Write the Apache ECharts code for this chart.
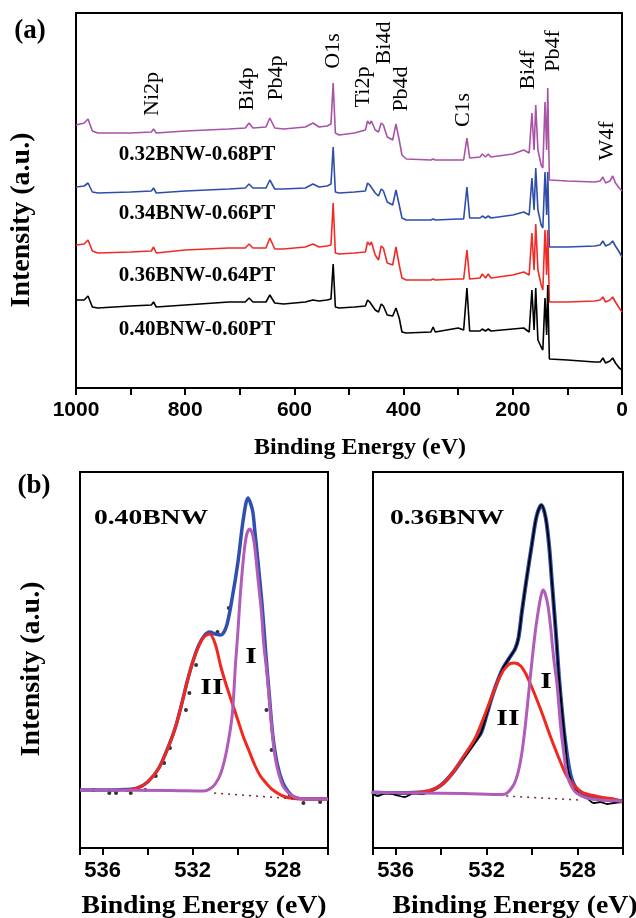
<!DOCTYPE html>
<html><head><meta charset="utf-8">
<script src="https://cdn.jsdelivr.net/npm/echarts@6/dist/echarts.min.js"></script>
<style>html,body{margin:0;padding:0;background:#fff}#c{width:636px;height:918px}</style>
</head><body><div id="c"></div>
<script>
// ---------- (a) survey spectra: binding energy (eV) and offset intensities (a.u.) ----------
const energies = [1000,985,978,970,960,900,862,858,853,800,720,690,683,676,652,645,636,620,580,566,555,540,533,529,525,518,490,470,466,462,459,452,446,441,437,434,430,420,414,408,403,395,350,346,342,300,290,284,279,260,256,250,245,240,200,180,170,165,161,158,154,148,145,141,138,136,133,130,100,50,40,35,30,22,17,12,5,0];
const int032 = [263,265,269,257,255,255,256,259,255,257,259,260,265,260,261,270,260,259,261,265,261,262,264,305,255,253,255,258,267,264,267,258,256,265,263,265,251,248,264,248,233,229,228,229,228,228,228,250,230,231,234,231,234,231,234,238,235,275,238,283,238,223,220,286,238,300,208,208,207,206,207,211,205,207,212,205,200,197];
const int034 = [201,202,205,196,195,196,197,200,195,197,199,200,204,200,200,208,199,199,200,204,201,202,204,241,196,195,196,197,205,203,205,195,192,199,197,199,186,183,198,183,170,168,168,169,168,169,169,201,170,170,172,170,172,170,173,176,173,210,178,220,178,163,160,216,173,216,141,141,141,142,143,147,142,144,147,142,136,131];
const int036 = [143,144,148,137,135,136,137,141,135,138,140,140,144,140,140,150,139,139,141,144,141,142,143,185,135,134,135,136,146,143,146,133,128,142,140,142,125,123,141,123,110,108,108,109,108,109,109,138,109,110,114,110,114,110,113,116,113,155,118,164,118,103,98,158,113,158,86,86,86,87,88,91,86,88,91,86,80,76];
const int040 = [88,88,92,81,80,82,83,86,81,83,86,86,90,86,86,93,85,84,86,88,87,88,89,124,81,80,81,82,88,86,88,78,76,84,82,84,73,72,80,70,56,55,56,61,56,60,58,100,57,57,59,57,59,57,59,60,56,98,58,100,48,41,38,90,53,103,29,29,28,26,26,30,25,27,30,25,20,18];
const sampleNames = ['0.32BNW-0.68PT','0.34BNW-0.66PT','0.36BNW-0.64PT','0.40BNW-0.60PT'];
const peakNames = ['Ni2p','Bi4p','Pb4p','O1s','Ti2p','Bi4d','Pb4d','C1s','Bi4f','Pb4f','W4f'];
const peakEnergies = [861,687,634,529,474,436,405,291,172,126,27];
const surveyTicks = [1000,800,600,400,200,0];

// ---------- (b) O1s core-level fits: [binding energy (eV), intensity (a.u.)] ----------
const o1sTicks = [536,532,528];
// 0.40BNW
const b40Data = [[536.4,58],[535.7,55],[535.4,55],[534.75,55],[534.1,58],[533.64,72],[533.27,85],[533.01,100],[532.3,138],[532.15,155],[531.85,183],[530.9,216],[530.4,240],[528.73,138],[528.5,98],[527.69,53],[527.09,45],[526.35,46]];
const b40Env = [[537,58],[536,58],[535,58.5],[534.5,59.5],[534,66],[533.5,80],[533,106],[532.75,122],[532.5,143],[532.25,166],[532,186],[531.75,202],[531.5,212],[531.25,216],[531,214],[530.75,213],[530.5,222],[530.25,250],[530,285],[529.75,330],[529.55,350],[529.35,338],[529.25,318],[529.1,285],[528.95,250],[528.85,222],[528.75,192],[528.6,152],[528.45,113],[528.25,84],[528,65],[527.75,56],[527.5,51],[527,49],[526,49]];
const b40PeakI = [[537,58],[533,57.5],[531.5,57],[531.25,59],[531,64],[530.75,75],[530.5,97],[530.25,133],[530.1,185],[530,215],[529.9,250],[529.8,278],[529.7,300],[529.6,314],[529.47,319],[529.35,314],[529.25,301],[529.1,268],[528.95,235],[528.85,204],[528.7,173],[528.55,134],[528.4,100],[528.25,80],[528,62],[527.75,55],[527.5,51],[527,49],[526,49]];
const b40PeakII = [[535,57.5],[534.5,59.5],[534,66],[533.5,80],[533,106],[532.75,122],[532.5,143],[532.25,166],[532,186],[531.75,201],[531.5,211],[531.25,214],[531,204],[530.75,181],[530.5,162],[530.25,145],[530,128],[529.75,111],[529.5,97],[529.25,83],[529,72],[528.75,65],[528.5,59],[528,52],[527.5,49.5],[527,49],[526,49]];
const b40Base = [[531.05,55],[527.39,49]];
// 0.36BNW
const b36Data = [[537.06,55],[536.8,52],[536.4,55],[536,53],[535.6,51],[535.2,55],[534.8,54],[534.4,58],[534.1,61],[533.8,67],[533.5,75],[533.2,84],[532.9,93],[532.5,106],[532.25,115],[532,133],[531.75,152],[531.5,168],[531.25,181],[531,190],[530.75,199],[530.6,210],[530.45,236],[530.25,268],[530,305],[529.8,332],[529.59,343],[529.4,330],[529.25,302],[529.14,270],[529.03,238],[528.92,205],[528.82,172],[528.7,141],[528.55,108],[528.4,76],[528.1,58],[527.8,52],[527.59,50],[527.3,45],[527,46],[526.7,44],[526.41,45],[526.04,46]];
const b36Env = [[537.06,55.5],[536,55],[535,55.5],[534.5,57],[534,63],[533.5,75],[533,91],[532.5,107],[532.25,115],[532,133],[531.75,152],[531.5,168],[531.25,181],[531,190],[530.75,199],[530.6,210],[530.45,236],[530.25,268],[530,305],[529.8,332],[529.59,343],[529.4,330],[529.25,302],[529.14,270],[529.03,238],[528.92,205],[528.82,172],[528.7,141],[528.55,108],[528.33,75],[528.1,61],[527.75,54],[527.5,51],[527,49],[526.04,47]];
const b36PeakI = [[537.06,55.5],[535,55],[533,54.5],[531.3,53.5],[531.1,55],[530.9,60],[530.75,66],[530.6,77],[530.45,95],[530.3,122],[530.15,155],[530,188],[529.85,218],[529.7,241],[529.6,253],[529.52,258],[529.42,254],[529.3,242],[529.18,220],[529.05,190],[528.9,163],[528.75,123],[528.6,94],[528.45,72],[528.25,61],[528.04,55],[527.6,50],[527,48],[526.04,47]];
const b36PeakII = [[535.3,55],[535,55.5],[534.5,57.5],[534,63],[533.5,75],[533,92],[532.5,110],[532,138],[531.75,153],[531.5,167],[531.25,178],[531,184],[530.77,185],[530.5,182],[530.25,173],[530,160],[529.75,146],[529.5,131],[529.25,115],[529,100],[528.75,86],[528.5,73],[528.25,65],[528,59],[527.75,55],[527,51],[526.41,49],[526.04,46]];
const b36Base = [[531.14,52],[527.96,48]];

const serif = '"Liberation Serif","Times New Roman",serif';
const sans = '"Liberation Sans",Arial,sans-serif';
const pair = (xs, ys) => xs.map((x, i) => [x, ys[i]]);
const chart = echarts.init(document.getElementById('c'));

function xAx(grid, min, max, interval, ticks, labelSize, name, nameSize, nameGap, shift) {
  return {
    gridIndex: grid, type: 'value', inverse: true, min, max, interval,
    axisLine: {show: true, onZero: false, lineStyle: {color: '#000', width: 2}},
    axisTick: {show: true, length: 7, lineStyle: {color: '#000', width: 2}},
    axisLabel: {show: true, showMinLabel: true, showMaxLabel: true, hideOverlap: false,
      formatter: v => ticks.includes(v) ? String(v) : '',
      fontFamily: sans, fontWeight: 'bold', fontSize: labelSize, color: '#000', margin: 12},
    splitLine: {show: false},
    name, nameLocation: 'middle', nameGap,
    nameTextStyle: {fontFamily: serif, fontWeight: 'bold', fontSize: nameSize, color: '#000', padding: [0, 0, 0, shift]}
  };
}
function yAx(grid, min, max, name, nameGap, shiftDown) {
  return {
    gridIndex: grid, type: 'value', min, max,
    axisLine: {show: true, lineStyle: {color: '#000', width: 2}},
    axisTick: {show: false}, axisLabel: {show: false}, splitLine: {show: false},
    name, nameLocation: 'middle', nameRotate: 90, nameGap,
    nameTextStyle: {fontFamily: serif, fontWeight: 'bold', fontSize: 28, color: '#000', padding: [0, shiftDown, 0, 0]}
  };
}
function line(xi, data, color, width, extra) {
  return Object.assign({type: 'line', xAxisIndex: xi, yAxisIndex: xi, data, symbol: 'none',
    lineStyle: {color, width}, itemStyle: {color}, silent: true}, extra || {});
}
const smooth = {smooth: 0.3};

const option = {
  animation: false,
  backgroundColor: '#fff',
  grid: [
    {left: 76, top: 13, width: 546, height: 375, show: true, borderColor: '#000', borderWidth: 2},
    {left: 80, top: 472, width: 248, height: 376, show: true, borderColor: '#000', borderWidth: 2},
    {left: 373, top: 472, width: 250, height: 376, show: true, borderColor: '#000', borderWidth: 2}
  ],
  xAxis: [
    xAx(0, 0, 1000, 100, surveyTicks, 21, 'Binding Energy (eV)', 24, 48, 22),
    xAx(1, 526, 537, 2, o1sTicks, 22, '', 26, 44, 0),
    xAx(2, 526, 537, 2, o1sTicks, 22, '', 26, 44, 0)
  ],
  yAxis: [
    yAx(0, 0, 375, 'Intensity (a.u.)', 40, 39),
    yAx(1, 0, 376, 'Intensity (a.u.)', 34, 18),
    yAx(2, 0, 376, '', 10, 0)
  ],
  series: [
    line(0, pair(energies, int032), '#a852a8', 1.6),
    line(0, pair(energies, int034), '#2f4ea8', 1.6),
    line(0, pair(energies, int036), '#f02b27', 1.6),
    line(0, pair(energies, int040), '#000000', 1.6),

    line(1, b40Env, '#3050b0', 3.5, smooth),
    line(1, b40PeakII, '#f0281e', 3, smooth),
    line(1, b40PeakI, '#b05cb8', 3, smooth),
    line(1, b40Base, '#7a2a2a', 1.5, {lineStyle: {color: '#7a2a2a', width: 1.5, type: [2, 5]}}),
    {type: 'scatter', xAxisIndex: 1, yAxisIndex: 1, data: b40Data, symbol: 'circle', symbolSize: 4,
      itemStyle: {color: '#000'}, silent: true},

    line(2, b36Env, '#3050b0', 4, smooth),
    line(2, b36Data, '#000000', 1.8, smooth),
    line(2, b36PeakII, '#f0281e', 3, smooth),
    line(2, b36PeakI, '#b05cb8', 3, smooth),
    line(2, b36Base, '#7a2a2a', 1.5, {lineStyle: {color: '#7a2a2a', width: 1.5, type: [2, 5]}})
  ]
};
chart.setOption(option);

function txt(text, x, y, font, rot, sx) {
  return {type: 'text', x, y, rotation: rot || 0, scaleX: sx || 1, silent: true, z: 100,
    style: {text, font, fill: '#000', align: 'center', verticalAlign: 'middle',
      textAlign: 'center', textVerticalAlign: 'middle'}};
}
const peakLabelY = [94, 89, 78, 51, 87, 43, 89, 110, 70, 51, 141];
const sampleLabelY = [155, 214, 276, 330];
const els = [];
peakNames.forEach((n, i) => {
  const x = chart.convertToPixel({xAxisIndex: 0}, peakEnergies[i]);
  els.push(txt(n, x, peakLabelY[i], '22px ' + serif, Math.PI / 2));
});
sampleNames.forEach((n, i) => els.push(txt(n, 197, sampleLabelY[i], 'bold 21px ' + serif)));
els.push(txt('(a)', 30, 31, 'bold 27px ' + serif));
els.push(txt('(b)', 34, 486, 'bold 27px ' + serif));
els.push(txt('0.40BNW', 151, 519, 'bold 20px ' + serif, 0, 1.38));
els.push(txt('0.36BNW', 447, 519, 'bold 20px ' + serif, 0, 1.38));
els.push(txt('I', 251, 657, 'bold 23px ' + serif, 0, 1.3));
els.push(txt('II', 212, 688, 'bold 23px ' + serif, 0, 1.3));
els.push(txt('I', 546, 682, 'bold 23px ' + serif, 0, 1.3));
els.push(txt('II', 508, 719, 'bold 23px ' + serif, 0, 1.3));
els.push(txt('Binding Energy (eV)', 204, 907, 'bold 25px ' + serif, 0, 1.11));
els.push(txt('Binding Energy (eV)', 515, 907, 'bold 25px ' + serif, 0, 1.11));
chart.setOption({graphic: {elements: els}});
</script>
</body></html>
